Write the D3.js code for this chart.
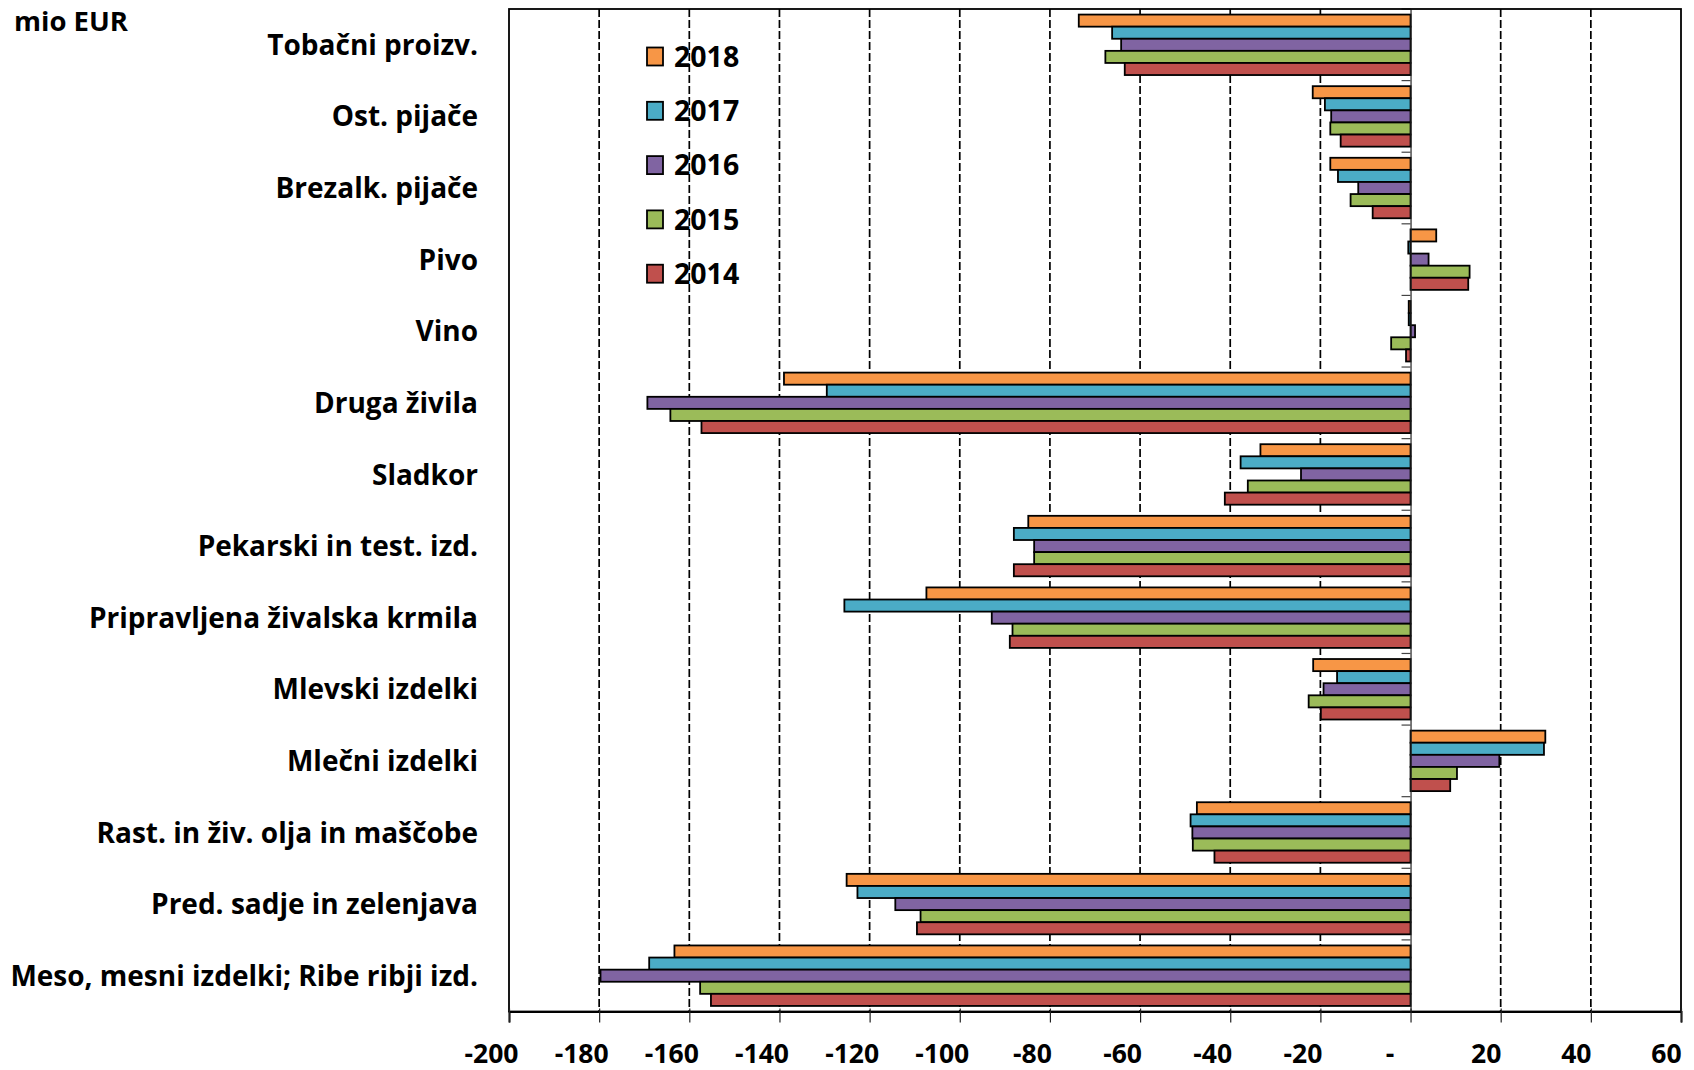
<!DOCTYPE html>
<html>
<head>
<meta charset="utf-8">
<script src="https://cdn.jsdelivr.net/npm/d3@7"></script>
<style>
  html, body { margin: 0; padding: 0; background: #fff; }
  svg text { font-family: "Open Sans", Lato, sans-serif; font-weight: bold; fill: #000; }
</style>
</head>
<body>
<svg id="chart" width="1694" height="1070"></svg>
<script>
const categories = [
  "Tobačni proizv.",
  "Ost. pijače",
  "Brezalk. pijače",
  "Pivo",
  "Vino",
  "Druga živila",
  "Sladkor",
  "Pekarski in test. izd.",
  "Pripravljena živalska krmila",
  "Mlevski izdelki",
  "Mlečni izdelki",
  "Rast. in živ. olja in maščobe",
  "Pred. sadje in zelenjava",
  "Meso, mesni izdelki; Ribe ribji izd."
];
const years = ["2018", "2017", "2016", "2015", "2014"];
const v2018 = [-73.6, -21.7, -17.8, 5.7, -0.4, -139.0, -33.3, -84.8, -107.4, -21.6, 29.9, -47.4, -125.1, -163.3];
const v2017 = [-66.2, -19.0, -16.1, -0.5, -0.4, -129.5, -37.7, -88.0, -125.6, -16.3, 29.6, -48.8, -122.7, -168.9];
const v2016 = [-64.2, -17.6, -11.6, 4.0, 1.0, -169.3, -24.3, -83.5, -92.9, -19.3, 19.7, -48.4, -114.3, -179.7];
const v2015 = [-67.7, -17.8, -13.3, 13.1, -4.3, -164.2, -36.1, -83.5, -88.3, -22.6, 10.3, -48.3, -108.7, -157.6];
const v2014 = [-63.4, -15.5, -8.4, 12.8, -1.0, -157.3, -41.2, -88.0, -88.9, -19.9, 8.8, -43.5, -109.5, -155.2];
const xTicks = [-200, -180, -160, -140, -120, -100, -80, -60, -40, -20, 0, 20, 40, 60];
const xTickLabels = ["-200", "-180", "-160", "-140", "-120", "-100", "-80", "-60", "-40", "-20", "-", "20", "40", "60"];
const unitLabel = "mio EUR";

const colors = {"2018": "#F79646", "2017": "#4BACC6", "2016": "#8064A2", "2015": "#9BBB59", "2014": "#C0504D"};
const seriesValues = {"2018": v2018, "2017": v2017, "2016": v2016, "2015": v2015, "2014": v2014};

const svg = d3.select("#chart");
const plot = {left: 509, right: 1681, top: 9, bottom: 1011.5};

const x = d3.scaleLinear().domain([-200, 60]).range([plot.left, plot.right]);
const y0 = d3.scaleBand().domain(categories).range([plot.top, plot.bottom]).padding(0);
const y1 = d3.scaleBand().domain(years).range([0, y0.bandwidth()]).paddingInner(0).paddingOuter(0.46);

// dashed gridlines
svg.append("g").selectAll("line")
  .data(xTicks.filter(t => t !== 0 && t !== -200 && t !== 60))
  .join("line")
  .attr("x1", d => x(d)).attr("x2", d => x(d))
  .attr("y1", plot.top).attr("y2", plot.bottom)
  .attr("stroke", "#000").attr("stroke-width", 1.7)
  .attr("stroke-dasharray", "8,3");

// bars
const rows = [];
categories.forEach((c, i) => years.forEach(yr => rows.push({cat: c, year: yr, value: seriesValues[yr][i]})));
svg.append("g").selectAll("rect")
  .data(rows)
  .join("rect")
  .attr("x", d => x(Math.min(0, d.value)))
  .attr("width", d => Math.abs(x(d.value) - x(0)))
  .attr("y", d => y0(d.cat) + y1(d.year))
  .attr("height", y1.bandwidth())
  .attr("fill", d => colors[d.year])
  .attr("stroke", "#000").attr("stroke-width", 1.8);

// category axis at zero
const yAxis = d3.axisLeft(y0).tickSize(0).tickFormat("");
const yAxisG = svg.append("g").attr("transform", `translate(${x(0)},0)`).call(yAxis);
yAxisG.select(".domain").attr("stroke", "#222").attr("stroke-width", 1.2);
const bounds = categories.map(c => y0(c)).concat([plot.bottom]);
yAxisG.selectAll(".bt").data(bounds).join("line").attr("class", "bt")
  .attr("x1", -9).attr("x2", 0).attr("y1", d => d).attr("y2", d => d)
  .attr("stroke", "#444").attr("stroke-width", 1.2);

// frame
svg.append("rect")
  .attr("x", plot.left).attr("y", plot.top)
  .attr("width", plot.right - plot.left).attr("height", plot.bottom - plot.top)
  .attr("fill", "none").attr("stroke", "#000").attr("stroke-width", 1.8);

// bottom axis
const xAxis = d3.axisBottom(x).tickValues(xTicks).tickSize(11)
  .tickFormat((d, i) => xTickLabels[i]);
const xAxisG = svg.append("g").attr("transform", `translate(0,${plot.bottom})`).call(xAxis);
xAxisG.select(".domain").attr("stroke", "#000").attr("stroke-width", 2);
xAxisG.selectAll(".tick line").attr("y1", -3).attr("stroke", "#222").attr("stroke-width", 1.2);
xAxisG.selectAll(".tick text")
  .attr("y", 51.5).attr("dy", null)
  .attr("dx", d => d === 0 ? -21 : (d > 0 ? -15 : -18))
  .style("font-family", "'Open Sans', sans-serif").style("font-weight", "bold").style("font-size", "26.5px")
  .attr("fill", "#000");

// category labels
svg.append("g").selectAll("text")
  .data(categories)
  .join("text")
  .attr("x", 478)
  .attr("y", d => y0(d) + y0.bandwidth() / 2)
  .attr("dy", "0.36em")
  .attr("text-anchor", "end")
  .style("font-size", "28px")
  .text(d => d);

// unit label
svg.append("text").attr("x", 14).attr("y", 31).style("font-size", "27.5px").text(unitLabel);

// legend
const legend = svg.append("g").selectAll("g").data(years).join("g")
  .attr("transform", (d, i) => `translate(647,${47.5 + i * 54.3})`);
legend.append("rect").attr("width", 16).attr("height", 18)
  .attr("fill", d => colors[d]).attr("stroke", "#000").attr("stroke-width", 1.8);
legend.append("text").attr("x", 27).attr("y", 9).attr("dy", "0.36em")
  .style("font-size", "28.5px").text(d => d);
</script>
</body>
</html>
